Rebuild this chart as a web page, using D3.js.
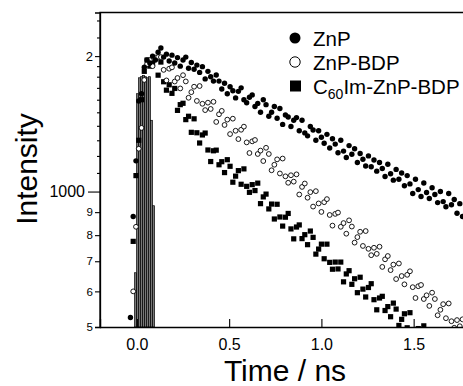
<!DOCTYPE html>
<html>
<head>
<meta charset="utf-8">
<script src="https://cdn.jsdelivr.net/npm/d3@7"></script>
<style>
body { margin: 0; background: #fff; }
text { font-family: Arial, "Liberation Sans", sans-serif; fill: #000; }
</style>
</head>
<body>
<svg id="chart" width="463" height="386"></svg>
<script>
// time channels (ns), shared by the three decays
var times = [-0.035, -0.02, -0.005, 0.01, 0.025, 0.04, 0.055, 0.07, 0.085, 0.1,
    0.115, 0.13, 0.145, 0.16, 0.175, 0.19, 0.205, 0.22, 0.235, 0.25,
    0.265, 0.28, 0.295, 0.31, 0.325, 0.34, 0.355, 0.37, 0.385, 0.4,
    0.415, 0.43, 0.445, 0.46, 0.475, 0.49, 0.505, 0.52, 0.535, 0.55,
    0.565, 0.58, 0.595, 0.61, 0.625, 0.64, 0.655, 0.67, 0.685, 0.7,
    0.715, 0.73, 0.745, 0.76, 0.775, 0.79, 0.805, 0.82, 0.835, 0.85,
    0.865, 0.88, 0.895, 0.91, 0.925, 0.94, 0.955, 0.97, 0.985, 1.0,
    1.015, 1.03, 1.045, 1.06, 1.075, 1.09, 1.105, 1.12, 1.135, 1.15,
    1.165, 1.18, 1.195, 1.21, 1.225, 1.24, 1.255, 1.27, 1.285, 1.3,
    1.315, 1.33, 1.345, 1.36, 1.375, 1.39, 1.405, 1.42, 1.435, 1.45,
    1.465, 1.48, 1.495, 1.51, 1.525, 1.54, 1.555, 1.57, 1.585, 1.6,
    1.615, 1.63, 1.645, 1.66, 1.675, 1.69, 1.705, 1.72, 1.735, 1.75,
    1.765]

var znp = [525, 880, 1170, 1590, 1650, 1890, 1960, 1930, 2000, 1960,
    2040, 2085, 1990, 2020, 1950, 2010, 1930, 1985, 1900, 1960,
    1990, 1880, 1935, 1870, 1910, 1840, 1895, 1780, 1850, 1800,
    1760, 1815, 1760, 1690, 1740, 1650, 1710, 1675, 1615, 1670,
    1700, 1600, 1575, 1620, 1640, 1545, 1570, 1500, 1600, 1560,
    1470, 1500, 1545, 1455, 1530, 1410, 1480, 1465, 1395, 1440,
    1460, 1365, 1440, 1350, 1330, 1395, 1370, 1300, 1365, 1320,
    1280, 1340, 1250, 1310, 1275, 1220, 1300, 1230, 1190, 1265,
    1210, 1245, 1160, 1215, 1180, 1140, 1200, 1135, 1175, 1110,
    1160, 1125, 1080, 1150, 1095, 1060, 1120, 1065, 1100, 1030,
    1085, 1040, 990, 1065, 1010, 975, 1045, 995, 965, 1020,
    985, 945, 1000, 950, 925, 990, 935, 960, 895, 940,
    880]

var znpBdp = [430, 600, 835, 1245, 1385, 1770, 1920, 1960, 1900, 1985,
    1990, 1990, 1864, 1766, 1875, 1888, 1756, 1788, 1695, 1814,
    1757, 1616, 1663, 1710, 1590, 1716, 1567, 1517, 1576, 1526,
    1583, 1428, 1485, 1511, 1406, 1445, 1342, 1452, 1365, 1308,
    1372, 1394, 1286, 1218, 1293, 1302, 1212, 1233, 1169, 1251,
    1212, 1115, 1147, 1179, 1097, 1184, 1081, 1046, 1087, 1052,
    1092, 985, 1024, 1042, 969, 997, 926, 1002, 941, 901,
    947, 962, 887, 840, 892, 898, 835, 851, 806, 863,
    836, 770, 792, 814, 757, 817, 746, 722, 750, 727,
    754, 680, 707, 719, 669, 688, 639, 692, 649, 622,
    653, 665, 613, 580, 616, 620, 577, 588, 557, 596,
    577, 531, 546, 562, 523, 564, 515, 498, 518, 502,
    520]

var c60ZnpBdp = [460, 775, 1085, 1300, 1600, 1850, 1960, 1900, 1930, 1978,
    1814, 1940, 1754, 1680, 1727, 1653, 1695, 1515, 1560, 1571,
    1445, 1470, 1354, 1451, 1351, 1282, 1336, 1349, 1237, 1166,
    1232, 1236, 1147, 1165, 1102, 1177, 1138, 1049, 1082, 1113,
    1038, 1123, 1027, 996, 1036, 1005, 1044, 940, 973, 987,
    915, 938, 869, 937, 878, 838, 877, 894, 826, 785,
    834, 843, 786, 802, 762, 817, 791, 726, 745, 764,
    709, 764, 696, 672, 697, 673, 697, 630, 656, 667,
    622, 640, 596, 645, 607, 583, 612, 624, 575, 546,
    580, 585, 544, 555, 527, 565, 548, 504, 520, 535,
    498, 538, 492, 477, 496, 481, 503, 451, 470, 479,
    445, 459, 427, 462, 435, 417, 434, 421, 437, 395,
    411]

// instrument response, drawn as thin columns
var irfTimes = [-0.007, 0.004, 0.014, 0.025, 0.036, 0.047, 0.057, 0.068, 0.079, 0.090]
var irfCounts = [660, 1650, 1790, 1800, 1810, 1800, 1790, 1800, 1440, 930]

var xTicks = [0, 0.5, 1.0, 1.5]
var yLabelTicks = [500, 600, 700, 800, 900, 2000]
var yDecadeTicks = [1000]
var yMinorTicks = [1100, 1200, 1300, 1400, 1500, 1600, 1700, 1800, 1900, 2200, 2400]
var legendNames = ["ZnP", "ZnP-BDP", "C60Im-ZnP-BDP"]

var svg = d3.select("#chart")

var x = d3.scaleLinear().domain([-0.2, 1.8]).range([100, 469])
var y = d3.scaleLog().domain([500, 2500]).range([327, 12.5])

svg.append("clipPath")
    .attr("id", "plotclip")
    .append("rect")
    .attr("x", x(-0.2))
    .attr("y", y(2500))
    .attr("width", x(1.8) - x(-0.2))
    .attr("height", y(500) - y(2500))

var plot = svg.append("g").attr("clip-path", "url(#plotclip)")

// IRF columns
plot.selectAll("rect.irf")
    .data(irfTimes)
    .enter()
    .append("rect")
    .attr("class", "irf")
    .attr("x", function(d) { return x(d) - 1 })
    .attr("width", 2)
    .attr("y", function(d, i) { return y(irfCounts[i]) })
    .attr("height", function(d, i) { return y(500) - y(irfCounts[i]) })
    .attr("fill", "#777")
    .attr("stroke", "#000")
    .attr("stroke-width", 0.7)

function pts(vals) {
    return times.map(function(t, i) { return [t, vals[i]] })
}

plot.selectAll("rect.sq")
    .data(pts(c60ZnpBdp))
    .enter()
    .append("rect")
    .attr("class", "sq")
    .attr("x", function(d) { return x(d[0]) - 2.6 })
    .attr("y", function(d) { return y(d[1]) - 2.6 })
    .attr("width", 5.2)
    .attr("height", 5.2)
    .attr("fill", "#000")

plot.selectAll("circle.open")
    .data(pts(znpBdp))
    .enter()
    .append("circle")
    .attr("class", "open")
    .attr("cx", function(d) { return x(d[0]) })
    .attr("cy", function(d) { return y(d[1]) })
    .attr("r", 2.4)
    .attr("fill", "#fff")
    .attr("stroke", "#000")
    .attr("stroke-width", 0.9)

plot.selectAll("circle.full")
    .data(pts(znp))
    .enter()
    .append("circle")
    .attr("class", "full")
    .attr("cx", function(d) { return x(d[0]) })
    .attr("cy", function(d) { return y(d[1]) })
    .attr("r", 2.7)
    .attr("fill", "#000")

// frame
svg.append("path")
    .attr("d", d3.line()([[x(-0.2), y(500)], [x(-0.2), y(2500)], [x(1.8), y(2500)], [x(1.8), y(500)]]))
    .attr("fill", "none")
    .attr("stroke", "#000")
    .attr("stroke-width", 1.3)

// x axis, ticks pointing inwards
var xAxis = svg.append("g")
    .attr("transform", "translate(0," + y(500) + ")")
    .call(d3.axisBottom(x).tickValues(xTicks).tickSize(-8).tickPadding(12).tickFormat(d3.format(".1f")))
xAxis.select(".domain").attr("stroke-width", 1.3)
xAxis.selectAll(".tick line").attr("stroke-width", 1.2)
xAxis.selectAll("text").style("font-size", "16px").attr("font-family", null)

// y axis: labelled ticks, decade tick and minor ticks
var yAxis = svg.append("g")
    .attr("transform", "translate(" + x(-0.2) + ",0)")
    .call(d3.axisLeft(y).tickValues(yLabelTicks).tickSize(5).tickPadding(2)
        .tickFormat(function(d) { return d >= 2000 ? d / 1000 : d / 100 }))
yAxis.selectAll(".domain").attr("stroke-width", 1.3)
yAxis.selectAll("text").attr("font-family", null)
    .style("font-size", function(d) { return d == 2000 ? "13px" : "11.5px" })

var yDec = svg.append("g")
    .attr("transform", "translate(" + x(-0.2) + ",0)")
    .call(d3.axisLeft(y).tickValues(yDecadeTicks).tickSize(12).tickPadding(3).tickFormat(d3.format("d")))
yDec.select(".domain").remove()
yDec.selectAll("text").attr("font-family", null).style("font-size", "16px")

var yMin = svg.append("g")
    .attr("transform", "translate(" + x(-0.2) + ",0)")
    .call(d3.axisLeft(y).tickValues(yMinorTicks).tickSize(3).tickFormat(""))
yMin.select(".domain").remove()

svg.selectAll(".tick line").attr("stroke-width", 1.1)

// axis titles
svg.append("text")
    .attr("x", 285)
    .attr("y", 381)
    .attr("text-anchor", "middle")
    .style("font-size", "30px")
    .text("Time / ns")

svg.append("text")
    .attr("transform", "translate(37,169) rotate(-90)")
    .attr("text-anchor", "middle")
    .style("font-size", "30px")
    .text("Intensity")

// legend
var legY = [38, 62, 86]
var leg = svg.append("g")

leg.append("circle").attr("cx", 295).attr("cy", legY[0]).attr("r", 5.5).attr("fill", "#000")
leg.append("circle").attr("cx", 295).attr("cy", legY[1]).attr("r", 5.2)
    .attr("fill", "#fff").attr("stroke", "#000").attr("stroke-width", 1)
leg.append("rect").attr("x", 290).attr("y", legY[2] - 5.5).attr("width", 11).attr("height", 11).attr("fill", "#000")

leg.append("text").attr("x", 313).attr("y", legY[0] + 7.5).style("font-size", "20.5px").text(legendNames[0])
leg.append("text").attr("x", 313).attr("y", legY[1] + 7.5).style("font-size", "20.5px").text(legendNames[1])

var t3 = leg.append("text").attr("x", 313).attr("y", legY[2] + 7.5).style("font-size", "20.5px")
t3.append("tspan").text(legendNames[2].slice(0, 1))
t3.append("tspan").attr("dy", 5).style("font-size", "14px").text(legendNames[2].slice(1, 3))
t3.append("tspan").attr("dy", -5).text(legendNames[2].slice(3))
</script>
</body>
</html>
